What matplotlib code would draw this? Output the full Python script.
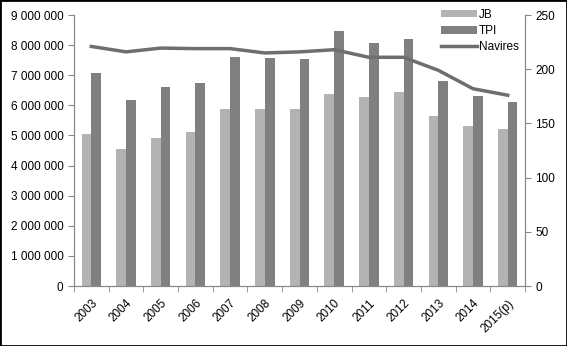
import matplotlib.pyplot as plt
import matplotlib.ticker as mticker
import numpy as np

years = ['2003', '2004', '2005', '2006', '2007', '2008', '2009', '2010',
         '2011', '2012', '2013', '2014', '2015(p)']
jb = [5050000, 4550000, 4920000, 5110000, 5880000, 5880000, 5880000,
      6380000, 6280000, 6440000, 5650000, 5300000, 5200000]
tpi = [7070000, 6180000, 6610000, 6740000, 7600000, 7570000, 7540000,
       8470000, 8070000, 8200000, 6810000, 6310000, 6110000]
navires = [221, 216, 219.5, 219, 219, 215, 216, 218, 211, 211, 199, 182, 176]

plt.rcParams['font.family'] = ['Liberation Sans', 'DejaVu Sans']

fig = plt.figure(figsize=(5.67, 3.46), dpi=100)
ax = fig.add_axes([0.1305, 0.1734, 0.7955, 0.7832])
ax2 = ax.twinx()

x = np.arange(len(years))
w = 0.28
ax.bar(x - w / 2, jb, w, color='#b3b3b3', label='JB', zorder=2)
ax.bar(x + w / 2, tpi, w, color='#808080', label='TPI', zorder=2)
ax2.plot(x, navires, color='#6e6e6e', lw=2.5, label='Navires')

ax.set_xlim(-0.5, len(years) - 0.5)
ax.set_ylim(0, 9000000)
ax2.set_ylim(0, 250)
ax.yaxis.set_major_locator(mticker.MultipleLocator(1000000))
ax.yaxis.set_major_formatter(mticker.FuncFormatter(
    lambda v, p: '{:,}'.format(int(v)).replace(',', ' ')))
ax2.yaxis.set_major_locator(mticker.MultipleLocator(50))

ax.set_xticks(x)
ax.set_xticklabels(years, rotation=45, ha='right', rotation_mode='anchor')
ax.set_xticks(np.arange(-0.5, len(years)), minor=True)
ax.tick_params(axis='x', which='major', length=0, pad=8, labelsize=8.5)
ax.tick_params(axis='x', which='minor', length=4, color='#888888')
ax.tick_params(axis='y', length=4, color='#888888', labelsize=8.5)
ax2.tick_params(axis='y', length=4, color='#888888', labelsize=8.5)

for a in (ax, ax2):
    a.spines['top'].set_visible(False)
    for s in ('left', 'right', 'bottom'):
        a.spines[s].set_color('#888888')

h1, l1 = ax.get_legend_handles_labels()
h2, l2 = ax2.get_legend_handles_labels()
ax2.legend(h1 + h2, l1 + l2, loc='upper right', bbox_to_anchor=(0.997, 1.04),
           frameon=False, fontsize=8.5, handlelength=3.0, handleheight=0.6,
           handletextpad=0.2, labelspacing=0.35, borderaxespad=0)

fig.patches.append(plt.Rectangle((0, 0), 1, 1, transform=fig.transFigure,
                                 fill=False, edgecolor='black', lw=2))
fig.savefig('out.png', dpi=100)
